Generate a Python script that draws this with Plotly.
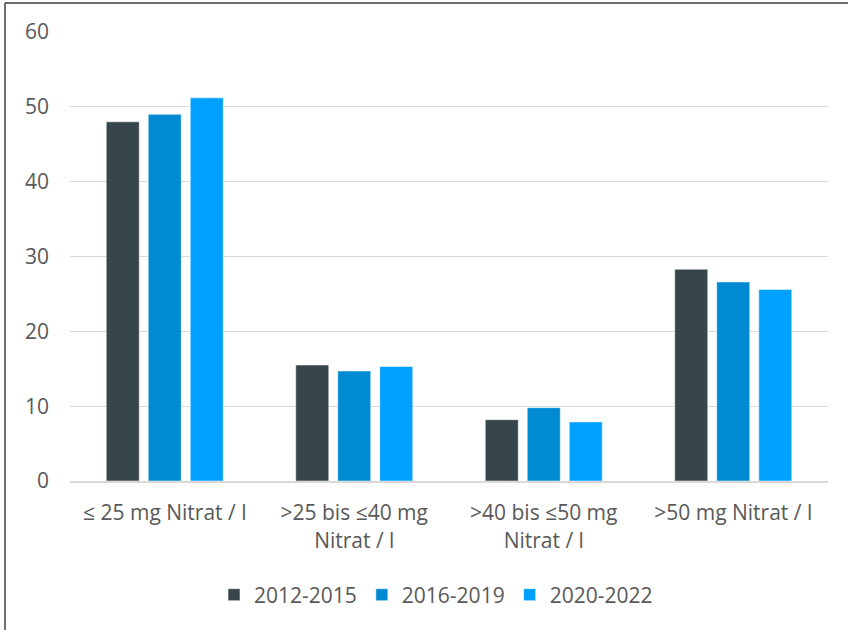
import plotly.graph_objects as go

CATEGORIES = ["≤ 25 mg Nitrat / l", ">25 bis ≤40 mg<br>Nitrat / l",
              ">40 bis ≤50 mg<br>Nitrat / l", ">50 mg Nitrat / l"]
SERIES = ["2012-2015", "2016-2019", "2020-2022"]
V_2012_2015 = [48.0, 15.5, 8.2, 28.3]
V_2016_2019 = [49.0, 14.7, 9.8, 26.6]
V_2020_2022 = [51.2, 15.3, 7.9, 25.6]

COLORS = ["#37464B", "#008AD2", "#00A0FF"]
GRID = "#D9D9D9"
TEXT = "#595959"
FONT = "Open Sans"
FS = 21

W, H = 848, 630
L, R, T, B = 70, 20, 32, 149
PW, PH = W - L - R, H - T - B

fig = go.Figure()
for name, vals, col in zip(SERIES, [V_2012_2015, V_2016_2019, V_2020_2022], COLORS):
    fig.add_trace(go.Bar(
        x=CATEGORIES, y=vals, name=name,
        marker=dict(color=col, line=dict(color="rgba(255,255,255,0.5)", width=1)),
    ))

# thin frame at top and left edge of the image
fx0 = (5 - L) / PW
fy0 = (H - B - 3) / PH
fig.add_shape(type="line", xref="paper", yref="paper", x0=fx0, x1=(W - L) / PW,
              y0=fy0, y1=fy0, line=dict(color="#404040", width=1.5))
fig.add_shape(type="line", xref="paper", yref="paper", x0=fx0, x1=fx0,
              y0=fy0, y1=-(B + 5) / PH, line=dict(color="#404040", width=1.5))

fig.update_layout(
    width=W, height=H,
    margin=dict(l=L, r=R, t=T, b=B),
    paper_bgcolor="white", plot_bgcolor="white",
    barmode="group", bargap=0.335, bargroupgap=0.214,
    font=dict(family=FONT, size=FS, color=TEXT),
    showlegend=True,
    legend=dict(orientation="h", x=(436 - L) / PW, xanchor="center",
                y=-(595 - (H - B)) / PH, yanchor="middle",
                font=dict(size=FS, color=TEXT), itemwidth=30,
                traceorder="normal"),
    xaxis=dict(showgrid=False, showline=True, linecolor=GRID, linewidth=2,
               ticks="", ticklabelstandoff=12, tickfont=dict(size=FS, color=TEXT)),
    yaxis=dict(range=[0, 60], dtick=10, showgrid=True, gridcolor=GRID, gridwidth=1,
               zeroline=False, showline=False, ticks="", ticklabelstandoff=20,
               tickfont=dict(size=FS, color=TEXT)),
)

fig.write_html("out.html", config={"displayModeBar": False},
               post_script="document.body.style.margin='0';")
